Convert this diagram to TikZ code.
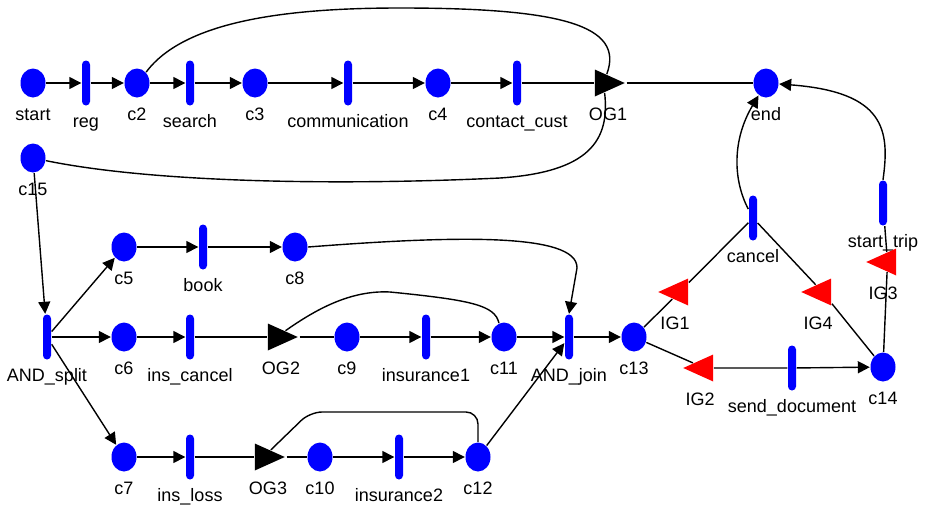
\documentclass[tikz,border=0pt]{standalone}
\usepackage{fontspec}
\setmainfont{Liberation Sans}
\usetikzlibrary{arrows.meta,shapes.geometric}

\begin{document}
\begin{tikzpicture}[x=0.5pt,y=-0.5pt,line width=0.7pt,font=\fontsize{9}{11}\selectfont,
  lbl/.style={inner sep=0pt,text height=6.5pt,text depth=2pt},
  place/.style={ellipse,fill=blue,minimum width=12.5pt,minimum height=14.5pt,inner sep=0pt,
    label={[lbl,label distance=4.25pt]below:#1}},
  trans/.style={rectangle,rounded corners=2pt,fill=blue,minimum width=4pt,minimum height=22.5pt,inner sep=0pt,
    label={[lbl,label distance=3.75pt]below:#1}},
  gate/.style={isosceles triangle,isosceles triangle stretches,minimum width=13.5pt,
    minimum height=15pt,inner sep=0pt},
  ogate/.style={gate,fill=black,label={[lbl,label distance=6.5pt,xshift=2.25pt]below:#1}},
  igate/.style={gate,fill=red,shape border rotate=180,label={[lbl,label distance=6.5pt,xshift=-2.25pt]below:#1}},
  arr/.style={-{Triangle[length=6pt,width=6pt]}}]
\useasboundingbox (0,0) rectangle (927,504);
% places
\node[place=start] (start) at (33,83) {}; \node[place=c2] (c2) at (137,83) {};
\node[place=c3] (c3) at (255,83) {}; \node[place=c4] (c4) at (438,83) {};
\node[place=end] (end) at (766,83) {}; \node[place=c15] (c15) at (33,158) {};
\node[place=c5] (c5) at (124,247) {}; \node[place=c8] (c8) at (295,247) {};
\node[place=c6] (c6) at (124,337) {}; \node[place=c9] (c9) at (347,337) {};
\node[place=c11] (c11) at (504,337) {}; \node[place=c13] (c13) at (634,337) {};
\node[place=c7] (c7) at (124,457) {}; \node[place=c10] (c10) at (320,457) {};
\node[place=c12] (c12) at (478,457) {}; \node[place=c14] (c14) at (883,367) {};
% transitions
\node[trans=reg] (reg) at (86,83) {}; \node[trans=search] (search) at (190,83) {};
\node[trans=communication] (communication) at (348,83) {};
\node[trans=contact\_cust] (contactCust) at (517,83) {};
\node[trans=AND\_split] (ANDsplit) at (47,337) {}; \node[trans=book] (book) at (203,247) {};
\node[trans=ins\_cancel] (insCancel) at (190,337) {}; \node[trans=insurance1] (insurance1) at (426,337) {};
\node[trans=AND\_join] (ANDjoin) at (569,337) {}; \node[trans=ins\_loss] (insLoss) at (190,457) {};
\node[trans=insurance2] (insurance2) at (399,457) {}; \node[trans=cancel] (cancel) at (753,218) {};
\node[trans=send\_document] (sendDoc) at (792,368) {}; \node[trans=start\_trip] (startTrip) at (883,203) {};
% gates
\node[ogate=OG1] (OG1) at (603.5,83) {}; \node[ogate=OG2] (OG2) at (276.5,337) {};
\node[ogate=OG3] (OG3) at (263.5,457) {};
\node[igate=IG1] (IG1) at (679.5,292) {}; \node[igate=IG2] (IG2) at (704.5,368) {};
\node[igate=IG3] (IG3) at (887.5,262) {}; \node[igate=IG4] (IG4) at (822.5,292) {};
% arcs
\draw[arr] (start)--(reg); \draw[arr] (reg)--(c2); \draw[arr] (c2)--(search); \draw[arr] (search)--(c3);
\draw[arr] (c3)--(communication); \draw[arr] (communication)--(c4); \draw[arr] (c4)--(contactCust);
\draw (contactCust)--(OG1)--(end);
\draw (c2.50) .. controls (185,20) and (290,8) .. (400,8) .. controls (560,8) and (625,25) .. (OG1);
\draw (OG1) .. controls (610,140) and (590,172) .. (500,178) .. controls (330,186) and (150,182) .. (c15);
\draw[arr] (c15)--(ANDsplit);
\draw[arr] (ANDsplit)--(c5); \draw[arr] (ANDsplit)--(c6); \draw[arr] (ANDsplit)--(c7);
\draw[arr] (c5)--(book); \draw[arr] (book)--(c8);
\draw[arr] (c8.east) .. controls (450,236) and (578,232) .. (577,268) -- (ANDjoin.north);
\draw[arr] (c6)--(insCancel); \draw (insCancel)--(OG2)--(c9);
\draw[arr] (c9)--(insurance1); \draw[arr] (insurance1)--(c11); \draw[arr] (c11)--(ANDjoin);
\draw (c11.110) .. controls (495,305) and (470,300) .. (390,292) .. controls (350,290) and (315,310) .. (OG2);
\draw[arr] (c7)--(insLoss); \draw (insLoss)--(OG3)--(c10);
\draw[arr] (c10)--(insurance2); \draw[arr] (insurance2)--(c12);
\draw[rounded corners=6pt] (c12.north) |- (310,412) -- (OG3);
\draw[arr] (c12)--(ANDjoin); \draw[arr] (ANDjoin)--(c13);
\draw (c13)--(IG1)--(cancel)--(IG4)--(c14);
\draw (c13)--(IG2)--(sendDoc); \draw[arr] (sendDoc)--(c14);
\draw (c14)--(IG3)--(startTrip);
\draw[arr] (startTrip.north) .. controls (890,130) and (885,92) .. (end);
\draw[arr] (cancel) .. controls (733,180) and (732,140) .. (end);
\end{tikzpicture}
\end{document}
